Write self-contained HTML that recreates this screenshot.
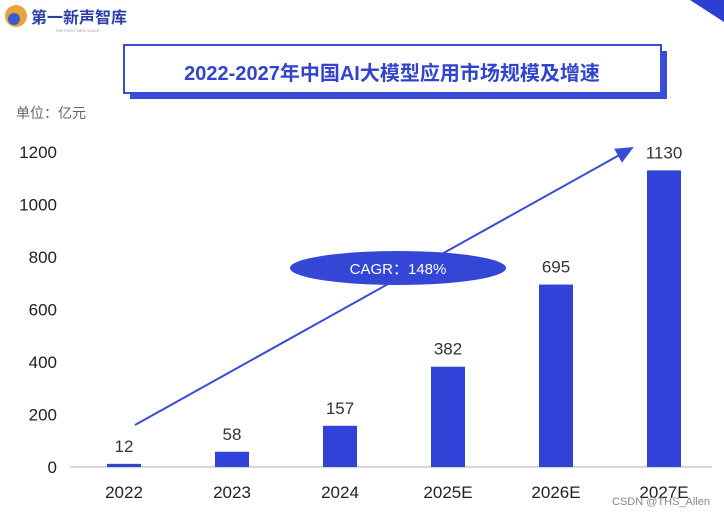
<!DOCTYPE html>
<html><head><meta charset="utf-8"><style>
body{margin:0;background:#fff;}
svg{display:block;font-family:"Liberation Sans","Noto Sans CJK SC",sans-serif;}
</style></head><body>
<svg width="724" height="513" viewBox="0 0 724 513">
<g>
<circle cx="16" cy="16" r="11" fill="#e8a33a"/><circle cx="14" cy="19" r="6" fill="#3a5bd0"/>
<text x="31" y="23" font-size="16" font-weight="bold" fill="#2b3fa8">第一新声智库</text>
<text x="55" y="32" font-size="4" fill="#999">THE FIRST NEW VOICE</text>
</g>
<polygon points="690,0 724,0 724,22" fill="#2c3fd1"/>
<g>
<rect x="130" y="51" width="537" height="48" fill="#3a4bd8"/>
<rect x="124" y="45" width="537" height="48" fill="#fff" stroke="#3a4bd8" stroke-width="2"/>
<text x="392" y="80" text-anchor="middle" font-size="20" font-weight="bold" fill="#3344cc">2022-2027年中国AI大模型应用市场规模及增速</text>
</g>
<text x="16" y="118" font-size="14" fill="#666">单位：亿元</text>
<g id="yaxis"></g>
<line x1="70" y1="467" x2="712" y2="467" stroke="#ccc" stroke-width="1.5"/>
<g id="bars"></g>
<g>
<defs><marker id="ah" markerWidth="10" markerHeight="10" refX="8" refY="5" orient="auto"><path d="M0,1 L9,5 L0,9 z" fill="#3a4bd8"/></marker></defs>
<line x1="135" y1="425" x2="632" y2="148" stroke="#3a4bd8" stroke-width="2" marker-end="url(#ah)"/>
<ellipse cx="398" cy="268" rx="108" ry="17" fill="#3446d6"/>
<text x="398" y="274" text-anchor="middle" font-size="15" fill="#fff">CAGR：148%</text>
</g>
<text x="710" y="505" text-anchor="end" font-size="11" fill="#888">CSDN @THS_Allen</text>
</svg>
<script>
const categories=["2022","2023","2024","2025E","2026E","2027E"];
const values=[12,58,157,382,695,1130];
const yTicks=[0,200,400,600,800,1000,1200];
const NS="http://www.w3.org/2000/svg";
const y=v=>467-v*315/1200;
const x=i=>124+i*108;
function mk(tag,attrs,parent,txt){const e=document.createElementNS(NS,tag);for(const k in attrs)e.setAttribute(k,attrs[k]);if(txt!==undefined)e.textContent=txt;parent.appendChild(e);return e;}
const ya=document.getElementById('yaxis');
yTicks.forEach(t=>{const e=mk('text',{x:57,y:y(t)+6,'text-anchor':'end','font-size':17,fill:'#222'},ya,String(t));

});
const bg=document.getElementById('bars');
values.forEach((v,i)=>{
const r=mk('rect',{x:x(i)-17,y:y(v),width:34,height:467-y(v),fill:'#3143d9'},bg);


const l=mk('text',{x:x(i),y:y(v)-12,'text-anchor':'middle','font-size':17,fill:'#333'},bg,String(v));


const c=mk('text',{x:x(i),y:498,'text-anchor':'middle','font-size':17,fill:'#222'},bg,categories[i]);


});
</script>
</body></html>
